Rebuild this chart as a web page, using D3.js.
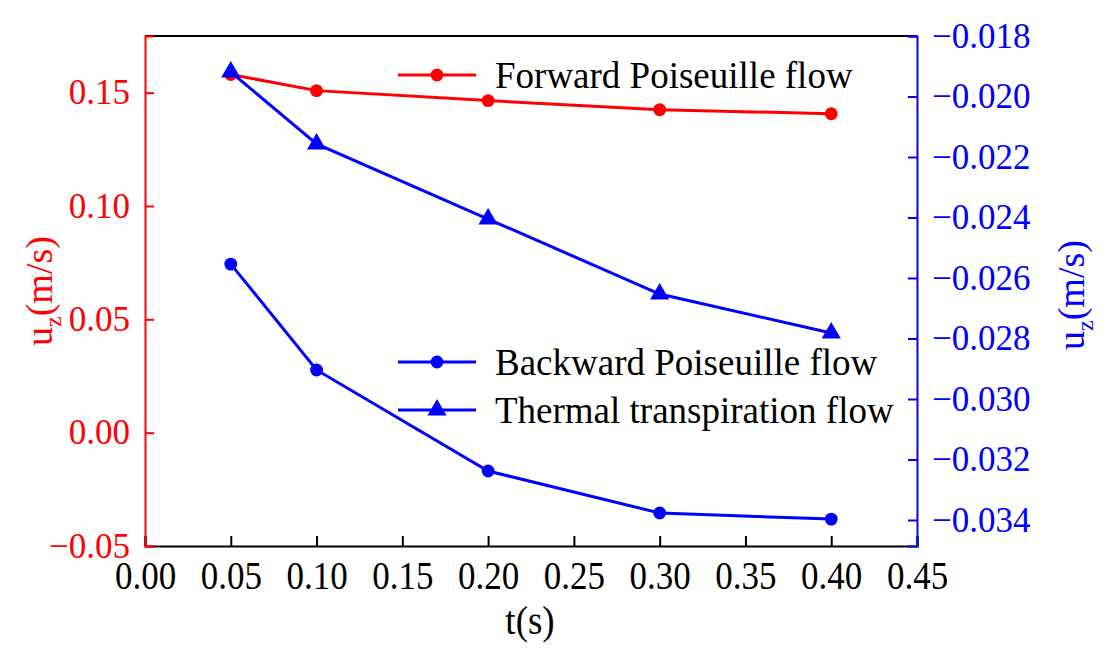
<!DOCTYPE html>
<html>
<head>
<meta charset="UTF-8">
<script src="https://d3js.org/d3.v7.min.js"></script>
<style>
  body { margin: 0; background: #fff; }
  svg { display: block; }
  svg text { font-family: "Liberation Serif", "Times New Roman", serif; }
</style>
</head>
<body>
<svg id="chart" width="1107" height="668"></svg>
<script>
// data
const times = [0.05, 0.10, 0.20, 0.30, 0.40];
const forwardFlow = [0.158, 0.1509, 0.1465, 0.1425, 0.1407];      // left axis
const backwardFlow = [-0.02554, -0.02904, -0.03238, -0.03377, -0.03397]; // right axis
const thermalFlow = [-0.01919, -0.02157, -0.02405, -0.02653, -0.02782];  // right axis
const xTicks = [0, 0.05, 0.10, 0.15, 0.20, 0.25, 0.30, 0.35, 0.40, 0.45];
const leftTicks = [-0.05, 0, 0.05, 0.10, 0.15];
const rightTicks = [-0.034, -0.032, -0.030, -0.028, -0.026, -0.024, -0.022, -0.020, -0.018];

const RED = "#ff0000", BLUE = "#0000ff";
const margin = { left: 145, right: 917, top: 36, bottom: 546 };
const svg = d3.select("#chart");

const x = d3.scaleLinear().domain([0, 0.45]).range([margin.left, margin.right]);
const yL = d3.scaleLinear().domain([-0.05, 0.175]).range([margin.bottom, margin.top]);
const yR = d3.scaleLinear().domain([-0.03486, -0.018]).range([margin.bottom, margin.top]);

const minus = s => s.replace("-", "\u2212");

// top frame
svg.append("line")
  .attr("x1", margin.left).attr("x2", margin.right)
  .attr("y1", margin.top).attr("y2", margin.top)
  .attr("stroke", "#000").attr("stroke-width", 2);

// bottom axis
const gx = svg.append("g")
  .attr("transform", `translate(0,${margin.bottom})`)
  .call(d3.axisBottom(x).tickValues(xTicks).tickFormat(d3.format(".2f")).tickSize(-10).tickPadding(0));
gx.attr("font-family", null);
gx.select(".domain").attr("stroke", "#000").attr("stroke-width", 2);
gx.selectAll(".tick line").attr("stroke-width", 2);
gx.selectAll(".tick text").attr("font-size", 35).attr("fill", "#000")
  .attr("y", 0).attr("dy", 0)
  .attr("transform", "translate(0,43) scale(1,1.15)");

// left axis
const gl = svg.append("g")
  .attr("transform", `translate(${margin.left},0)`)
  .call(d3.axisLeft(yL).tickValues(leftTicks).tickFormat(d => minus(d3.format(".2f")(d))).tickSize(-9).tickPadding(15));
gl.attr("font-family", null);
gl.select(".domain").attr("stroke", RED).attr("stroke-width", 2);
gl.selectAll(".tick line").attr("stroke", RED).attr("stroke-width", 2);
gl.selectAll(".tick text").attr("font-size", 35).attr("fill", RED);

// right axis
const gr = svg.append("g")
  .attr("transform", `translate(${margin.right},0)`)
  .call(d3.axisRight(yR).tickValues(rightTicks).tickFormat(d => minus(d3.format(".3f")(d))).tickSize(-9).tickPadding(15));
gr.attr("font-family", null);
gr.select(".domain").attr("stroke", BLUE).attr("stroke-width", 2);
gr.selectAll(".tick line").attr("stroke", BLUE).attr("stroke-width", 2);
gr.selectAll(".tick text").attr("font-size", 35).attr("fill", BLUE);

// axis titles
svg.append("text").attr("transform", "translate(530,634) scale(1,1.1)").attr("text-anchor", "middle")
  .attr("font-size", 37).attr("fill", "#000").text("t(s)");

function uzLabel(xp, yp, color) {
  const t = svg.append("text")
    .attr("transform", `translate(${xp},${yp}) rotate(-90)`)
    .attr("text-anchor", "middle").attr("font-size", 38).attr("fill", color);
  t.append("tspan").text("u");
  t.append("tspan").attr("font-size", 24).attr("dy", 9).text("z");
  t.append("tspan").attr("dy", -9).text("(m/s)");
}
uzLabel(52, 291, RED);
uzLabel(1084, 295, BLUE);

// series
const series = [
  { name: "Forward Poiseuille flow", values: forwardFlow, y: yL, color: RED, marker: "circle" },
  { name: "Backward Poiseuille flow", values: backwardFlow, y: yR, color: BLUE, marker: "circle" },
  { name: "Thermal transpiration flow", values: thermalFlow, y: yR, color: BLUE, marker: "triangle" }
];

const sym = {
  circle: d3.symbol().type(d3.symbolCircle).size(130),
  triangle: d3.symbol().type(d3.symbolTriangle).size(160)
};

series.forEach(s => {
  const pts = times.map((t, i) => [t, s.values[i]]);
  svg.append("path")
    .attr("d", d3.line().x(d => x(d[0])).y(d => s.y(d[1]))(pts))
    .attr("fill", "none").attr("stroke", s.color).attr("stroke-width", 3);
  svg.selectAll(null).data(pts).enter().append("path")
    .attr("transform", d => `translate(${x(d[0])},${s.y(d[1])})`)
    .attr("d", sym[s.marker]).attr("fill", s.color);
});

// legends
const legendPos = [
  { s: series[0], x: 398, y: 75 },
  { s: series[1], x: 398, y: 362 },
  { s: series[2], x: 398, y: 410 }
];
legendPos.forEach(l => {
  const g = svg.append("g").attr("transform", `translate(${l.x},${l.y})`);
  g.append("line").attr("x1", 0).attr("x2", 78).attr("stroke", l.s.color).attr("stroke-width", 3);
  g.append("path").attr("transform", "translate(39,0)").attr("d", sym[l.s.marker]).attr("fill", l.s.color);
  g.append("text").attr("x", 97).attr("y", 0).attr("dy", "0.35em")
    .attr("font-size", 37).attr("fill", "#000").text(l.s.name);
});
</script>
</body>
</html>
